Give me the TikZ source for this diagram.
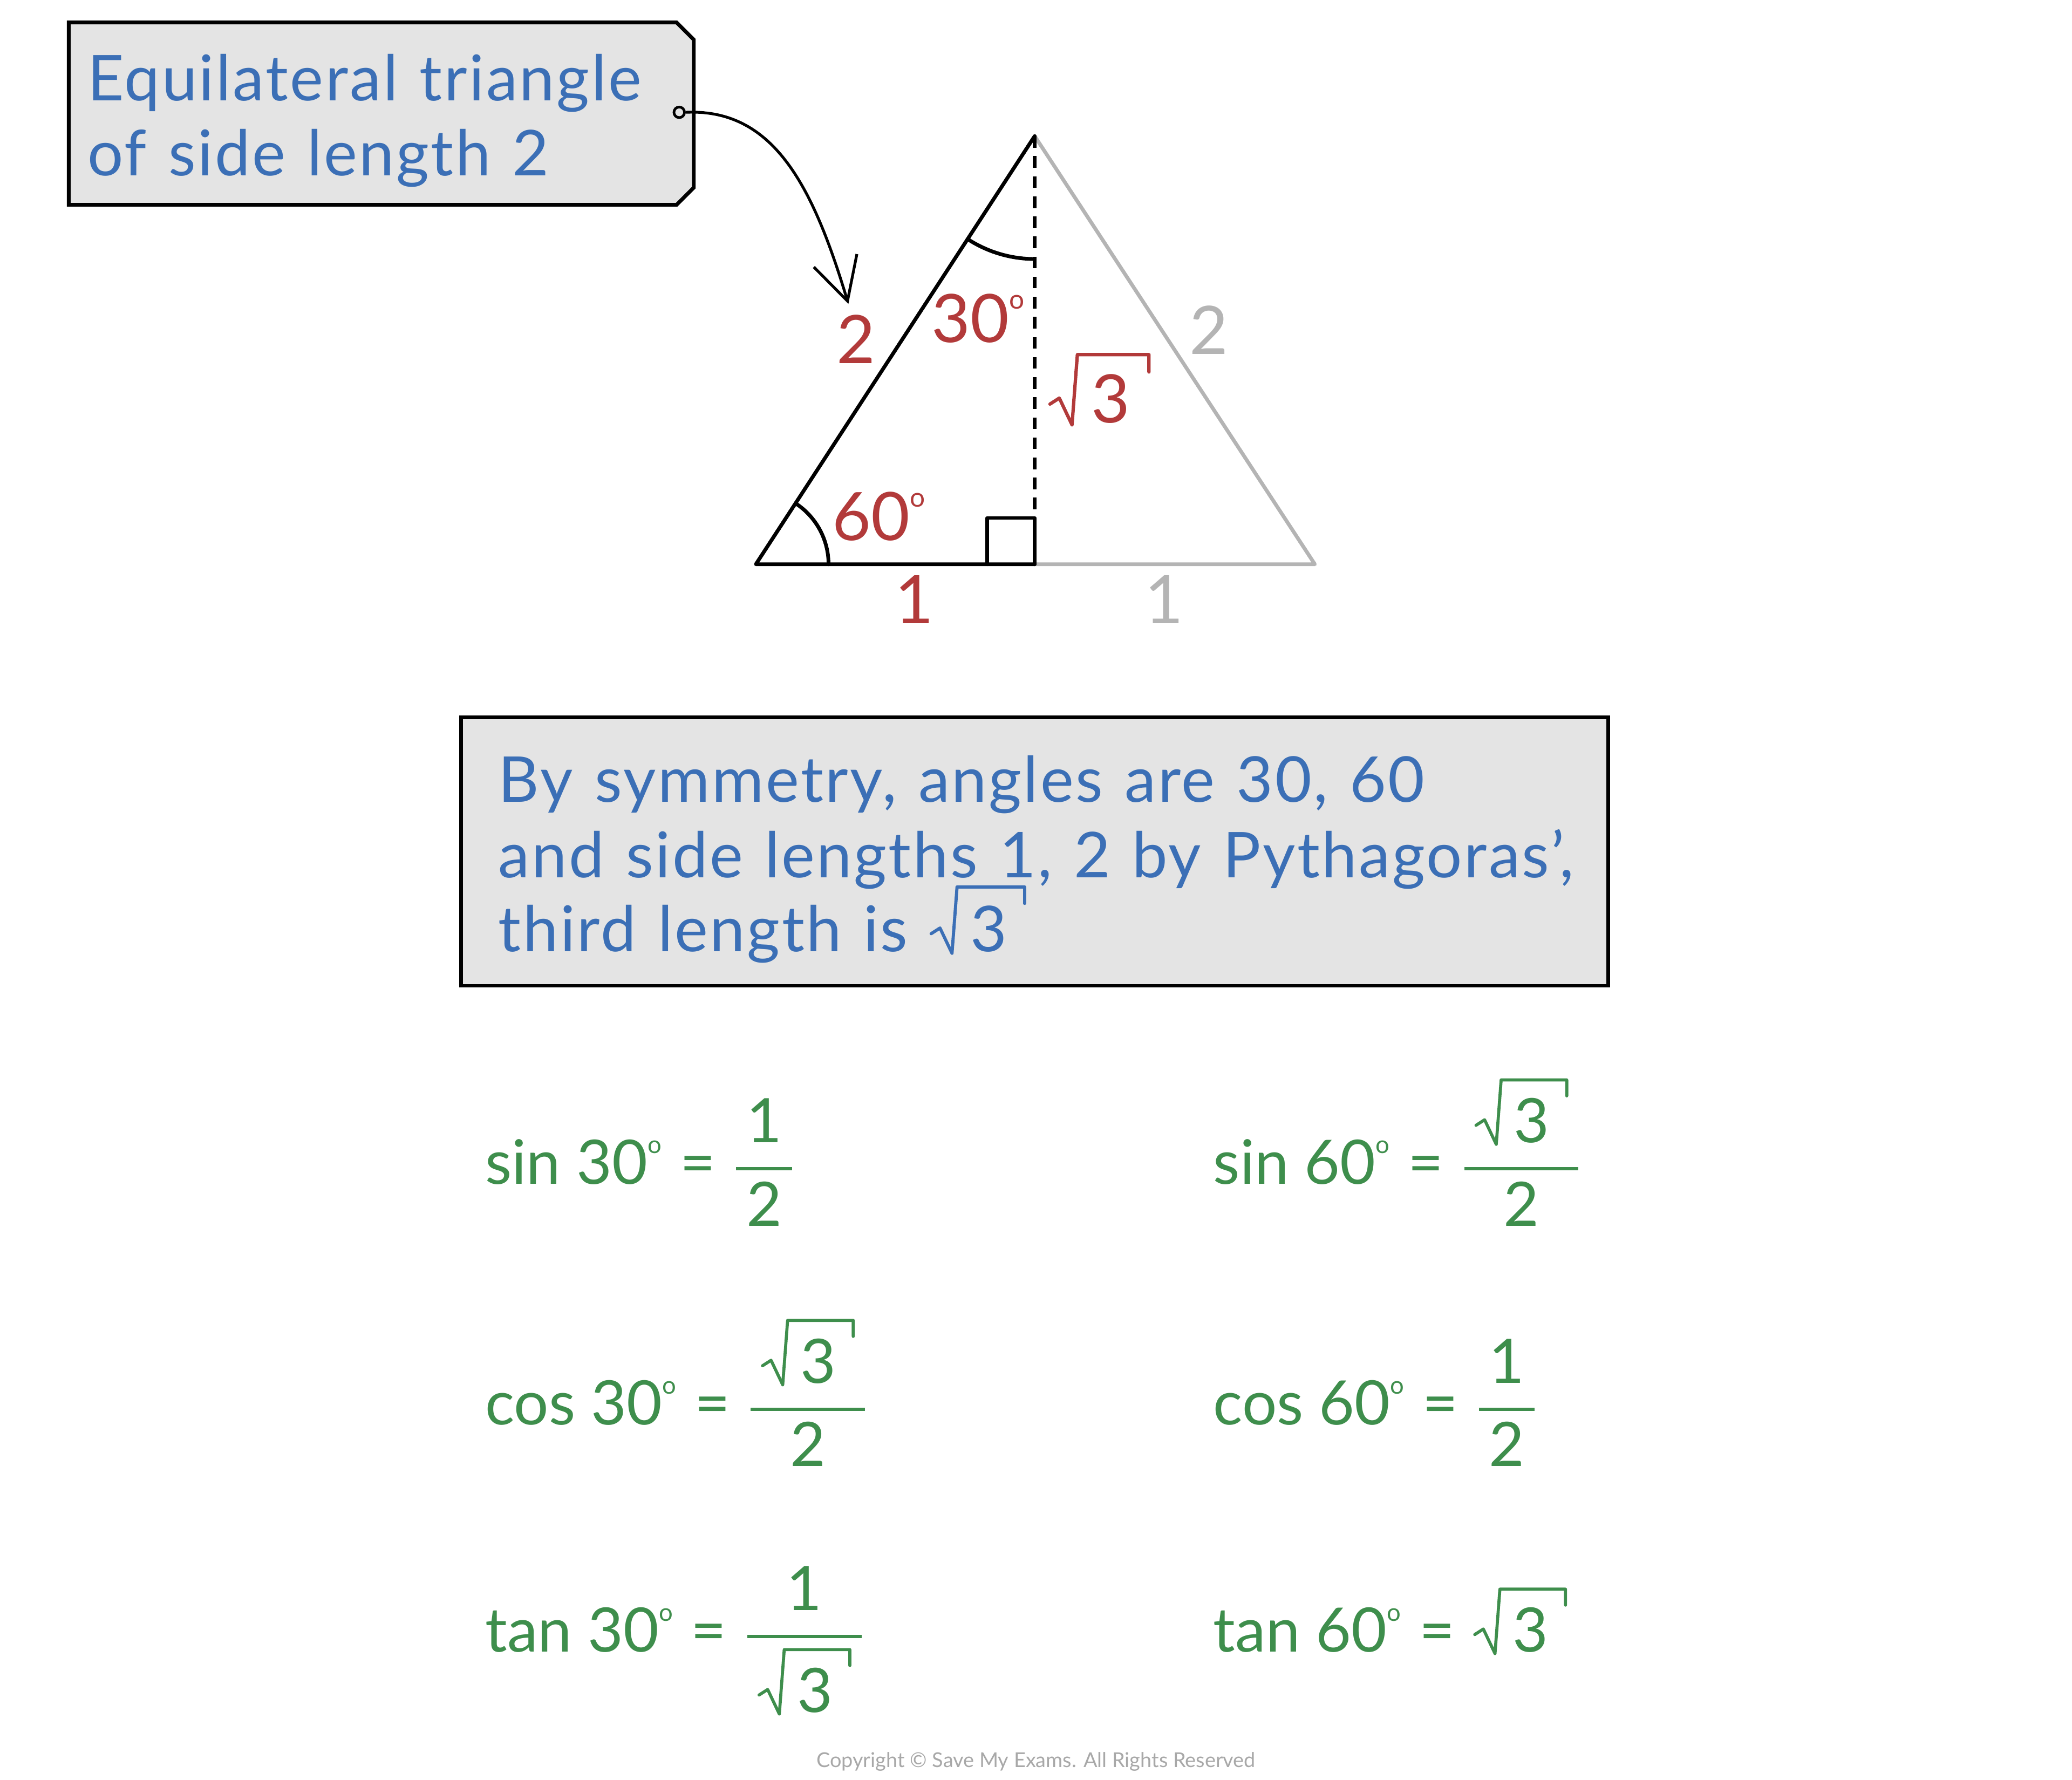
\RequirePackage{fix-cm}
\documentclass[tikz,border=0pt]{standalone}
\usepackage{amsmath}
\usepackage{fontspec}
\setmainfont{Lato}
\newfontfamily\handfont[LetterSpace=3,WordSpace=1.2]{Lato}
\usetikzlibrary{arrows.meta}
\definecolor{tblue}{HTML}{3B6FB6}
\definecolor{tred}{HTML}{B23A3A}
\definecolor{tgreen}{HTML}{3E8E4C}
\definecolor{tgray}{HTML}{B4B4B4}
\definecolor{boxgray}{HTML}{E4E4E4}
\definecolor{copygray}{HTML}{A8A8A8}

\makeatletter
\newcommand{\dg}{\raisebox{0.5em}{\fontsize{\fpeval{0.4*\f@size}}{\fpeval{0.4*\f@size}}\selectfont o}}
\makeatother

\newcommand{\sqthree}[1]{\mbox{\begin{tikzpicture}[baseline=0pt,x=1em,y=1em]
\node[inner sep=0pt,outer sep=0pt,anchor=base west,text=#1] (t) at (0,0) {3};
\draw[draw=#1,line width=0.05em,line cap=round,line join=round,solid]
 (-0.62,0.28) -- (-0.48,0.37) -- (-0.29,-0.03) -- (-0.21,1.02)
 -- ([shift={(0.28em,1.02em)}]t.base east) -- ([shift={(0.28em,0.76em)}]t.base east);
\end{tikzpicture}}}
\newcommand{\gfrac}[2]{$\genfrac{}{}{1.8pt}{0}{\mbox{\,#1\,}}{\mbox{\,#2\,}}$}
\newcommand{\eqgap}{\hspace{0.3em}=\hspace{0.3em}}

\begin{document}
\begin{tikzpicture}[x=0.025cm,y=-0.025cm,
  blue text/.style={text=tblue,font=\handfont\fontsize{34}{40}\selectfont,inner sep=0pt,anchor=base west},
  red lbl/.style={text=tred,font=\fontsize{36}{40}\selectfont,inner sep=0pt,anchor=base},
  gray lbl/.style={text=tgray,font=\fontsize{36}{40}\selectfont,inner sep=0pt,anchor=base},
  green eq/.style={text=tgreen,font=\fontsize{33}{40}\selectfont,inner sep=0pt,anchor=base west},
  panel/.style={draw=black,line width=2pt,fill=boxgray,line join=miter},
  blk/.style={draw=black,line width=2pt,line cap=round,line join=round},
  gry/.style={draw=tgray,line width=2pt,line cap=round,line join=round},
  pointer/.style={draw=black,line width=1.5pt,-{Straight Barb[length=0.8cm,width=0.85cm,line width=1.5pt]}}
]
\fill[white] (0,0) rectangle (1568,1347);
\useasboundingbox (0,0) rectangle (1568,1347);

% tag
\draw[panel] (52,17) -- (512,17) -- (525,30) -- (525,142) -- (512,155) -- (52,155) -- cycle;
\node[blue text] (tag1) at (66,76) {Equilateral triangle};
\node[blue text] (tag2) at (66,133) {of side length 2};
\node[circle,draw=black,line width=1.4pt,fill=boxgray,minimum size=0.2cm,inner sep=0pt] (hole) at (514,85) {};
\coordinate (tip) at (642,230);
\draw[pointer] (hole.east) .. controls (585,82) and (615,140) .. (tip);

% triangle
\coordinate (A) at (783,103);
\coordinate (B) at (572,427);
\coordinate (C) at (995,427);
\coordinate (F) at (783,427);
\draw[gry] (A) -- (C) -- (F);
\draw[blk] (A) -- (B) -- (F);
\draw[blk,line cap=butt,dash pattern=on 0.22cm off 0.16cm] (A) -- (F);
\draw[blk] (F) -- (783,392) -- (747,392) -- (747,427);
\draw[blk] (627,427) arc[start angle=0,end angle=-56.9,radius=55];
\draw[blk] (783,196) arc[start angle=90,end angle=123.1,radius=93];

\node[red lbl] (l2) at (648,275) {2};
\node[red lbl] (l30) at (740,259) {30\dg};
\node[red lbl] (l60) at (665,409) {60\dg};
\node[red lbl,anchor=base west] (lr3) at (793,320) {\sqthree{tred}};
\node[red lbl] (l1) at (692,472) {1};
\node[gray lbl] (g2) at (915,268) {2};
\node[gray lbl] (g1) at (881,472) {1};

% middle box
\draw[panel] (349,543) rectangle (1217,746);
\node[blue text] (m1) at (377,607) {By symmetry, angles are 30, 60};
\node[blue text] (m2) at (377,664) {and side lengths 1, 2 by Pythagoras’,};
\node[blue text] (m3) at (377,720) {third length is \sqthree{tblue}};

% formulas
\node[green eq] (e1) at (367,896) {sin 30\dg\eqgap\gfrac{1}{2}};
\node[green eq] (e2) at (918,896) {sin 60\dg\eqgap\gfrac{\sqthree{tgreen}}{2}};
\node[green eq] (e3) at (367,1078) {cos 30\dg\eqgap\gfrac{\sqthree{tgreen}}{2}};
\node[green eq] (e4) at (918,1078) {cos 60\dg\eqgap\gfrac{1}{2}};
\node[green eq] (e5) at (367,1250) {tan 30\dg\eqgap\gfrac{1}{\sqthree{tgreen}}};
\node[green eq] (e6) at (918,1250) {tan 60\dg\eqgap\sqthree{tgreen}};

\node[text=copygray,font=\fontsize{11}{13}\selectfont,inner sep=0pt] (copy) at (784,1333) {Copyright © Save My Exams. All Rights Reserved};
\end{tikzpicture}
\end{document}
